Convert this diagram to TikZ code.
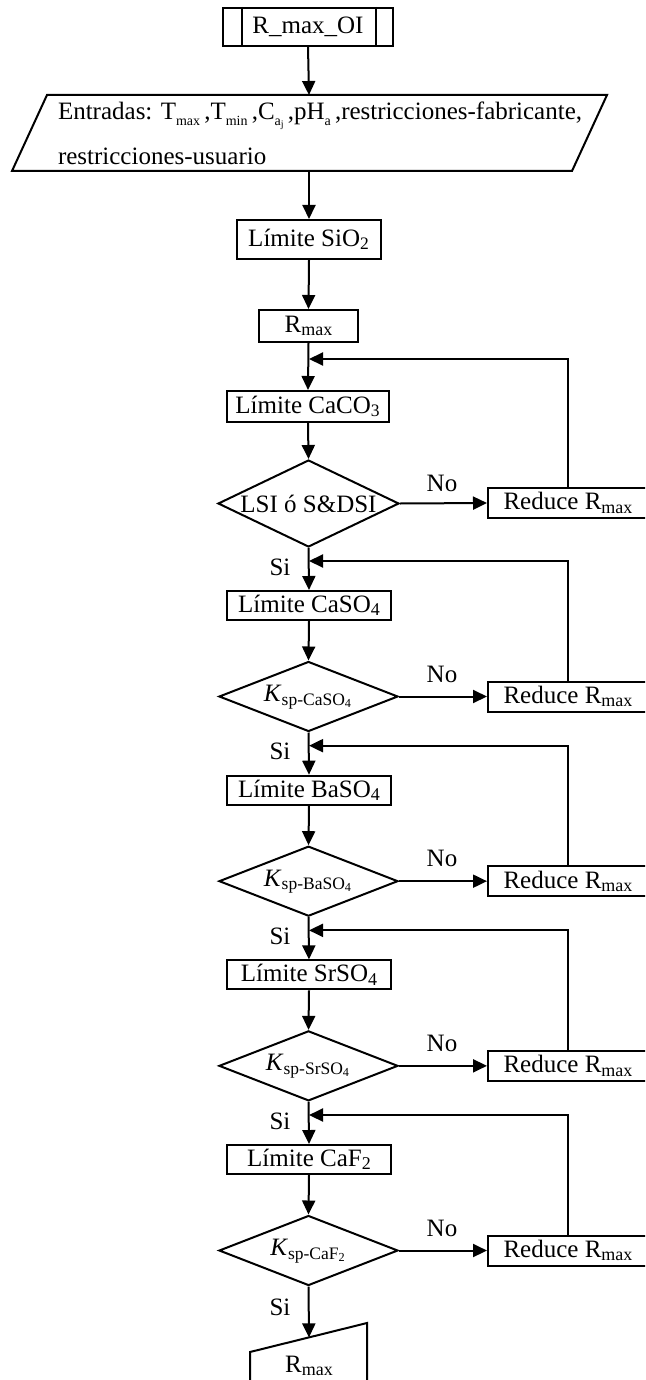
\documentclass[tikz,border=0pt]{standalone}
\usepackage{fontspec}
\setmainfont{Liberation Serif}
\usetikzlibrary{arrows.meta,shapes.geometric,calc}
\newcommand{\lsub}[1]{\raisebox{-0.3ex}{\fontsize{9}{9}\selectfont #1}}
\newcommand{\tsub}[1]{\raisebox{-0.45ex}{\fontsize{7}{7}\selectfont #1}}
\begin{document}
\begin{tikzpicture}[x=0.5pt,y=-0.5pt, line width=1pt,
  every node/.style={font=\fontsize{12.5}{15}\selectfont, inner sep=0pt},
  bx/.style 2 args={draw, rectangle, minimum width=#1, minimum height=#2},
  dia/.style 2 args={draw, diamond, minimum width=#1, minimum height=#2},
  rbx/.style={draw, rectangle, minimum width=80pt, minimum height=15pt},
  arr/.style={-{Triangle[length=7pt,width=6.5pt]}}]
\useasboundingbox (0,0) rectangle (645,1380);
\clip (0,0) rectangle (645,1380);
% start
\node[bx={85pt}{19pt}] (oi) at (308,27) {R\_max\_OI};
\draw ($(oi.north west)+(20,0)$) -- ($(oi.south west)+(20,0)$);
\draw ($(oi.north east)+(-18,0)$) -- ($(oi.south east)+(-18,0)$);
% inputs
\coordinate (eTL) at (47,95); \coordinate (eTR) at (607,95);
\coordinate (eBR) at (572,171); \coordinate (eBL) at (12,171);
\draw (eTL) -- (eTR) -- (eBR) -- (eBL) -- cycle;
\coordinate (eTop) at (309,95); \coordinate (eBot) at (309,171);
\node[anchor=base west] (e1) at (57,120) {Entradas: T\tsub{max}\,,T\tsub{min}\,,C\tsub{a\raisebox{-0.3ex}{\fontsize{5}{5}\selectfont j}}\,,pH\tsub{a}\,,restricciones-fabricante,};
\node[anchor=base west] (e2) at (57,165) {restricciones-usuario};
\draw[arr] (oi.south) -- (eTop);
% SiO2 and Rmax
\node[bx={72pt}{19.5pt}] (sio) at (309,239.5) {Límite SiO\textsubscript{2}};
\draw[arr] (eBot) -- (sio.north);
\node[bx={49.5pt}{16pt}] (rm) at (308.5,326) {R\lsub{max}};
\draw[arr] (sio.south) -- (rm.north);
\node[bx={81pt}{15.5pt}] (l1) at (308,406.5) {Límite CaCO\textsubscript{3}};
\draw[arr] (rm.south) -- (l1.north);
\coordinate (f1) at (309,359);
\node[dia={90.5pt}{43.5pt}] (d1) at (308.5,503.5) {};
\node (t1) at (308.5,504) {LSI ó S\&DSI};
\draw[arr] (l1.south) -- (d1.north);
\node[rbx] (r1) at (568,503) {Reduce R\lsub{max}};
\node (n1) at (442,483) {No};
\draw[arr] (d1.east) -- (r1.west);
\draw[arr] (r1.north) |- (f1);
% stages
\foreach \k/\lt/\kt [count=\i from 2] in {
  0/{Límite CaSO\lsub{4}}/{\textit{K}\textsubscript{sp-CaSO\textsubscript{4}}},
  1/{Límite BaSO\lsub{4}}/{\textit{K}\textsubscript{sp-BaSO\textsubscript{4}}},
  2/{Límite SrSO\lsub{4}}/{\textit{K}\textsubscript{sp-SrSO\textsubscript{4}}},
  3/{Límite CaF\lsub{2}}/{\textit{K}\textsubscript{sp-CaF\textsubscript{2}}}}{
  \pgfmathsetmacro\b{591+184.67*\k}
  \pgfmathtruncatemacro\j{\i-1}
  \node[bx={82pt}{14.5pt}] (l\i) at (309,{\b+14.5}) {\lt};
  \node[dia={89.5pt}{35pt}] (d\i) at (308.5,{\b+105.5}) {};
  \node (t\i) at (308.5,{\b+106}) {\kt};
  \node[rbx] (r\i) at (568,{\b+105.5}) {Reduce R\lsub{max}};
  \node (n\i) at (442,{\b+83}) {No};
  \node (s\i) at (280,{\b-24}) {Si};
  \coordinate (f\i) at (309,{\b-30});
  \draw[arr] (d\j.south) -- (l\i.north);
  \draw[arr] (l\i.south) -- (d\i.north);
  \draw[arr] (d\i.east) -- (r\i.west);
  \draw[arr] (r\i.north) |- (f\i);
}
% output
\node (s6) at (280,1307) {Si};
\coordinate (otop) at (309,1337.4);
\draw (250,1400) -- (250,1352) -- (367,1323) -- (367,1400);
\node (out) at (309,1366) {R\lsub{max}};
\draw[arr] (d5.south) -- (otop);
\end{tikzpicture}
\end{document}
